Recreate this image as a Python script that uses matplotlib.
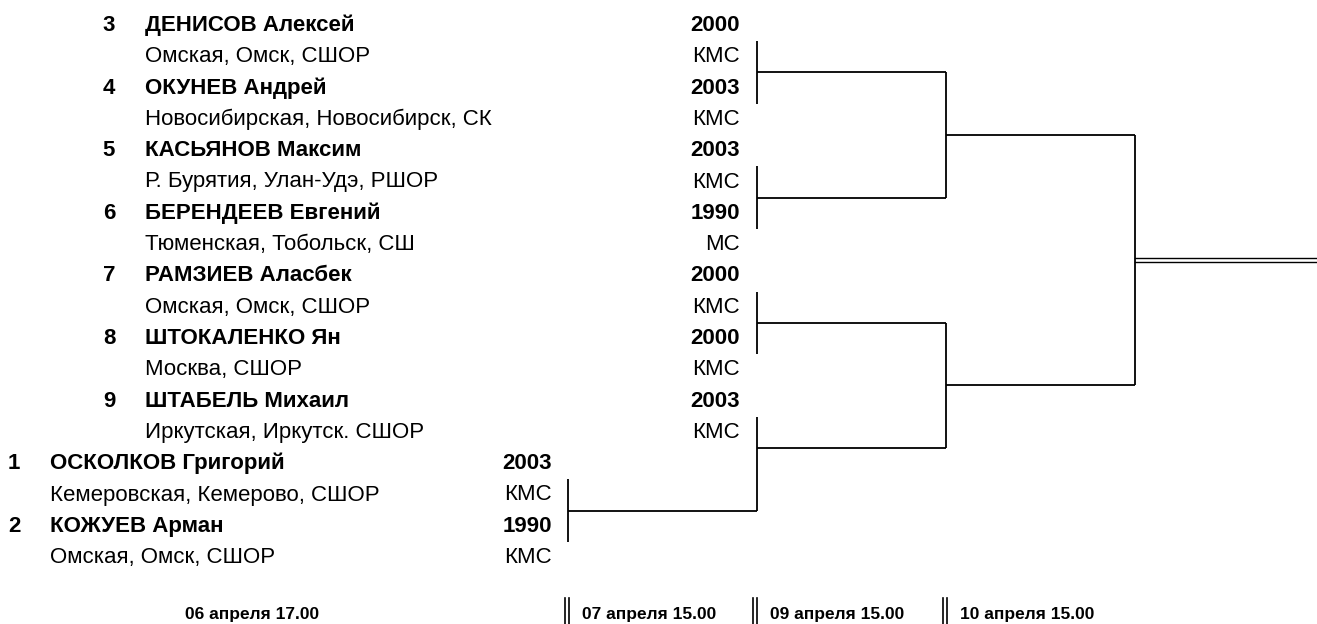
import matplotlib
matplotlib.use('Agg')
import matplotlib.pyplot as plt

plt.rcParams['font.family'] = ['Liberation Sans Narrow', 'Liberation Sans', 'DejaVu Sans']

# upper block, in order on the sheet
top_seeds = [3, 4, 5, 6, 7, 8, 9]
top_names = ["ДЕНИСОВ Алексей", "ОКУНЕВ Андрей", "КАСЬЯНОВ Максим",
             "БЕРЕНДЕЕВ Евгений", "РАМЗИЕВ Аласбек", "ШТОКАЛЕНКО Ян",
             "ШТАБЕЛЬ Михаил"]
top_regions = ["Омская, Омск, СШОР", "Новосибирская, Новосибирск, СК",
               "Р. Бурятия, Улан-Удэ, РШОР", "Тюменская, Тобольск, СШ",
               "Омская, Омск, СШОР", "Москва, СШОР",
               "Иркутская, Иркутск. СШОР"]
top_years = ["2000", "2003", "2003", "1990", "2000", "2000", "2003"]
top_ranks = ["КМС", "КМС", "КМС", "МС", "КМС", "КМС", "КМС"]

# lower block (first round pair)
low_seeds = [1, 2]
low_names = ["ОСКОЛКОВ Григорий", "КОЖУЕВ Арман"]
low_regions = ["Кемеровская, Кемерово, СШОР", "Омская, Омск, СШОР"]
low_years = ["2003", "1990"]
low_ranks = ["КМС", "КМС"]

round_dates = ["06 апреля 17.00", "07 апреля 15.00", "09 апреля 15.00", "10 апреля 15.00"]

# layout (pixels, rows)
W, H = 1317, 624
y0, dy = 25.5, 31.3
def ry(r):
    return y0 + r * dy

fig = plt.figure(figsize=(W / 100, H / 100), dpi=100)
ax = fig.add_axes([0, 0, 1, 1])
ax.set_xlim(0, W)
ax.set_ylim(H, 0)
ax.axis('off')

fs = 16
fsd = 12.5

def draw_block(seeds, names, regions, years, ranks, row0, x_seed, x_name, x_year):
    for i in range(len(seeds)):
        r = row0 + 2 * i
        ax.text(x_seed, ry(r), str(seeds[i]), ha='center', va='center',
                fontsize=fs, fontweight='bold')
        ax.text(x_name, ry(r), names[i], ha='left', va='center',
                fontsize=fs, fontweight='bold')
        ax.text(x_name, ry(r + 1), regions[i], ha='left', va='center', fontsize=fs)
        ax.text(x_year, ry(r), years[i], ha='right', va='center',
                fontsize=fs, fontweight='bold')
        ax.text(x_year, ry(r + 1), ranks[i], ha='right', va='center', fontsize=fs)

draw_block(top_seeds, top_names, top_regions, top_years, top_ranks, 0, 109, 145, 740)
draw_block(low_seeds, low_names, low_regions, low_years, low_ranks, 14, 14, 50, 552)

# bracket: (x, top row, bottom row, output row, x of next column)
matches = [
    (757, 0.5, 2.5, 1.5, 946),
    (757, 4.5, 6.5, 5.5, 946),
    (757, 8.5, 10.5, 9.5, 946),
    (568, 14.5, 16.5, 15.5, 757),
    (757, 12.5, 15.5, 13.5, 946),
    (946, 1.5, 5.5, 3.5, 1135),
    (946, 9.5, 13.5, 11.5, 1135),
]
lw = 1.3
for x, rt, rb, ro, xn in matches:
    ax.plot([x, x], [ry(rt), ry(rb)], color='black', lw=lw, solid_capstyle='butt')
    ax.plot([x, xn], [ry(ro), ry(ro)], color='black', lw=lw, solid_capstyle='butt')

# final
ax.plot([1135, 1135], [ry(3.5), ry(11.5)], color='black', lw=lw, solid_capstyle='butt')
for off in (-1.8, 1.8):
    ax.plot([1135, W], [ry(7.5) + off, ry(7.5) + off], color='black', lw=1.0)

# round dates
date_y = 614
ax.text(252, date_y, round_dates[0], ha='center', va='center', fontsize=fsd, fontweight='bold')
for xb, d in zip([567, 755, 945], round_dates[1:]):
    for off in (-1.8, 1.8):
        ax.plot([xb + off, xb + off], [598, H], color='black', lw=1.2)
    ax.text(xb + 15, date_y, d, ha='left', va='center', fontsize=fsd, fontweight='bold')

fig.savefig('out.png', dpi=100)
